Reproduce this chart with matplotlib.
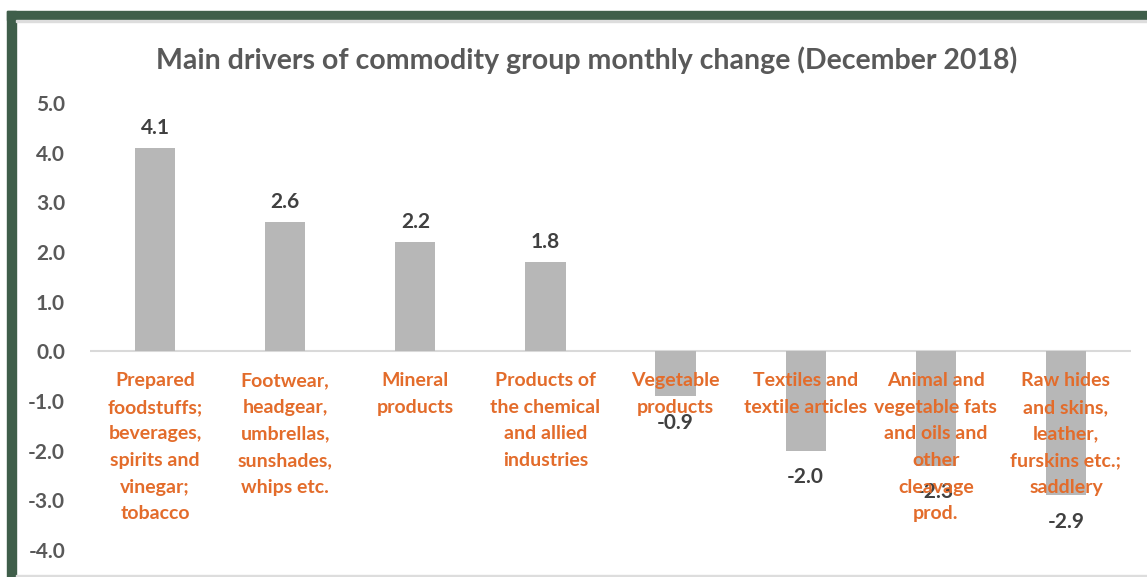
import numpy as np
from matplotlib import pyplot as plt
from matplotlib.patches import Rectangle

categories = ["Prepared\nfoodstuffs;\nbeverages,\nspirits and\nvinegar;\ntobacco",
              "Footwear,\nheadgear,\numbrellas,\nsunshades,\nwhips etc.",
              "Mineral\nproducts",
              "Products of\nthe chemical\nand allied\nindustries",
              "Vegetable\nproducts",
              "Textiles and\ntextile articles",
              "Animal and\nvegetable fats\nand oils and\nother\ncleavage\nprod.",
              "Raw hides\nand skins,\nleather,\nfurskins etc.;\nsaddlery"]
values = [4.1, 2.6, 2.2, 1.8, -0.9, -2.0, -2.3, -2.9]
yticks = [-4.0, -3.0, -2.0, -1.0, 0.0, 1.0, 2.0, 3.0, 4.0, 5.0]

plt.rcParams['font.family'] = ['Lato', 'DejaVu Sans']
W, H = 1147, 577
fig = plt.figure(figsize=(W/100, H/100), dpi=100)

# dark green frame (left and top) with light grey edges
green = '#3f5e4a'
fig.add_artist(Rectangle((7/W, 0), 9/W, (H-11)/H, transform=fig.transFigure, color=green))
fig.add_artist(Rectangle((7/W, (H-20)/H), 1-7/W, 9/H, transform=fig.transFigure, color=green))
fig.add_artist(Rectangle((16/W, (H-22)/H), 1-16/W, 2/H, transform=fig.transFigure, color='#dddddd'))
fig.add_artist(Rectangle((16/W, 0), 1-16/W, 2/H, transform=fig.transFigure, color='#dddddd'))

ax = fig.add_axes([90/W, 27/H, (1131-90)/W, (550-103)/H])
x = np.arange(len(values))
ax.bar(x, values, width=0.31, color='#b7b7b7', zorder=2)
ax.axhline(0, color='#d9d9d9', lw=1.5, zorder=1)
ax.set_xlim(-0.5, len(values)-0.5)
ax.set_ylim(-4, 5)
ax.set_yticks(yticks)
ax.set_yticklabels([f"{v:.1f}" for v in yticks], color='#595959', fontsize=15, fontweight='bold')
ax.tick_params(axis='y', length=0, pad=18)
ax.set_xticks([])
for s in ax.spines.values():
    s.set_visible(False)

for i, v in enumerate(values):
    off = 7 if v > 0 else -12
    ax.annotate(f"{v:.1f}", (i, v), xytext=(0, off), textcoords='offset points',
                ha='center', va='bottom' if v > 0 else 'top',
                color='#404040', fontsize=15, fontweight='bold', zorder=3)
    ax.annotate(categories[i], (i, 0), xytext=(0, -15), textcoords='offset points',
                ha='center', va='top', color='#e36c2b', fontsize=14, fontweight='bold',
                linespacing=1.69, zorder=4)

fig.text(587/W, (H-60)/H, "Main drivers of commodity group monthly change (December 2018)",
         ha='center', va='center', color='#595959', fontsize=20.5, fontweight='bold')

plt.savefig('out.png', dpi=100)
